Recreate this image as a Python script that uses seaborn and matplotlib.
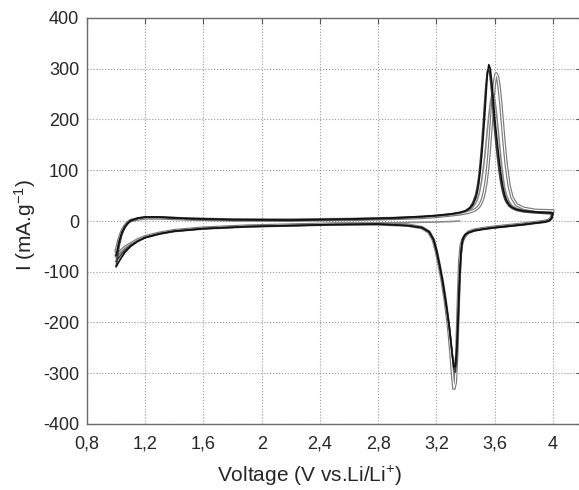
import numpy as np
import pandas as pd
import matplotlib
matplotlib.use("Agg")
import matplotlib.pyplot as plt
import seaborn as sns

# ---------------- DATA ----------------

# anodic sweep, 1.0 V -> 4.0 V
V_an = [1.00, 1.02, 1.04, 1.06, 1.08, 1.10, 1.15, 1.20, 1.30, 1.50, 1.80,
        2.20, 2.60, 2.90, 3.10, 3.20, 3.30, 3.36, 3.40, 3.43, 3.45, 3.47,
        3.48, 3.49, 3.50, 3.51, 3.52, 3.53, 3.54, 3.55, 3.56, 3.57, 3.58,
        3.59, 3.60, 3.61, 3.62, 3.63, 3.64, 3.65, 3.66, 3.67, 3.68, 3.70,
        3.72, 3.75, 3.80, 3.88, 4.00]

I_an_c1 = [-60, -36, -20, -10, -3, 1, 4, 6, 6, 4, 2,
           2, 3, 5, 7, 9, 12, 14, 16, 18, 20, 23,
           25, 28, 32, 38, 46, 58, 75, 98, 128, 165, 205,
           245, 275, 290, 284, 266, 238, 205, 170, 138, 110, 68,
           46, 32, 25, 21, 20]
I_an_c2 = [-68, -40, -22, -11, -4, 1, 6, 8, 8, 5, 3,
           2, 4, 6, 9, 11, 14, 17, 20, 25, 32, 45,
           56, 72, 95, 125, 160, 200, 245, 290, 308, 300, 275,
           240, 205, 175, 148, 122, 98, 78, 62, 50, 42, 32,
           27, 23, 20, 18, 16]
I_an_c3 = [-90, -50, -26, -13, -5, 0, 5, 7, 7, 4, 2,
           1, 3, 5, 8, 10, 13, 16, 20, 27, 36, 52,
           66, 85, 112, 145, 185, 228, 268, 295, 298, 282, 252,
           215, 180, 150, 124, 100, 80, 64, 52, 43, 37, 29,
           25, 21, 18, 16, 14]
I_an_c4 = [-80, -45, -24, -12, -4, 1, 5, 7, 7, 4, 2,
           1, 3, 5, 8, 10, 13, 15, 18, 22, 27, 35,
           41, 50, 62, 78, 98, 122, 150, 180, 208, 232, 248,
           250, 240, 220, 192, 162, 132, 105, 82, 64, 52, 38,
           30, 25, 21, 18, 16]

# cathodic sweep, 4.0 V -> 1.0 V
V_cat = [4.00, 3.99, 3.97, 3.94, 3.88, 3.80, 3.70, 3.60, 3.52, 3.46, 3.42,
         3.40, 3.39, 3.38, 3.37, 3.36, 3.35, 3.34, 3.33, 3.32, 3.31, 3.30,
         3.29, 3.28, 3.26, 3.24, 3.22, 3.20, 3.18, 3.15, 3.10, 3.00, 2.80,
         2.50, 2.20, 1.90, 1.60, 1.40, 1.30, 1.20, 1.15, 1.10, 1.06, 1.03,
         1.00]

I_cat_c1 = [20, 6, 1, -1, -3, -6, -9, -12, -15, -18, -22,
            -28, -32, -38, -48, -80, -165, -262, -318, -330, -300, -262,
            -228, -200, -155, -118, -88, -60, -38, -22, -13, -8, -6,
            -6, -8, -10, -14, -19, -24, -31, -37, -45, -52, -60,
            -68]
I_cat_c2 = [16, 5, 0, -2, -4, -7, -10, -13, -16, -19, -23,
            -26, -30, -36, -55, -100, -178, -248, -286, -288, -265, -238,
            -212, -190, -150, -114, -84, -57, -36, -21, -13, -9, -6,
            -7, -9, -11, -15, -20, -25, -33, -40, -50, -62, -75,
            -90]
I_cat_c3 = [14, 4, 0, -2, -4, -7, -10, -13, -16, -19, -23,
            -27, -32, -40, -65, -120, -200, -268, -298, -290, -267, -240,
            -214, -192, -152, -116, -86, -58, -37, -22, -13, -9, -6,
            -7, -9, -11, -15, -20, -25, -32, -39, -48, -58, -68,
            -80]
I_cat_c4 = [16, 5, 1, -1, -3, -6, -9, -12, -15, -18, -22,
            -26, -31, -40, -62, -110, -182, -245, -280, -284, -266, -242,
            -216, -193, -153, -117, -87, -60, -39, -23, -14, -9, -6,
            -7, -9, -11, -15, -20, -25, -32, -38, -46, -54, -62,
            -72]

# first sweep from open-circuit voltage (cycle 1 only)
V_ocv = [3.36, 3.30, 3.20, 3.00, 2.80, 2.50, 2.20]
I_ocv = [0, -1, -2, -3, -4, -5, -7]

cycles = ["c1", "c2", "c3", "c4"]
I_an = [I_an_c1, I_an_c2, I_an_c3, I_an_c4]
I_cat = [I_cat_c1, I_cat_c2, I_cat_c3, I_cat_c4]

x_ticks = [0.8, 1.2, 1.6, 2.0, 2.4, 2.8, 3.2, 3.6, 4.0]
x_ticklabels = ["0,8", "1,2", "1,6", "2", "2,4", "2,8", "3,2", "3,6", "4"]
y_ticks = [-400, -300, -200, -100, 0, 100, 200, 300, 400]

# ---------------- STYLE ----------------
sns.set_style("white")
plt.rcParams["font.family"] = ["Liberation Sans", "DejaVu Sans"]
plt.rcParams["mathtext.fontset"] = "custom"
plt.rcParams["mathtext.rm"] = "Liberation Sans"
plt.rcParams["mathtext.default"] = "regular"

rows = []
for name, ia, ic in zip(cycles, I_an, I_cat):
    v = list(V_an) + list(V_cat)
    i = list(ia) + list(ic)
    for k, (a, b) in enumerate(zip(v, i)):
        rows.append({"cycle": name, "step": k, "V": a, "I": b})
df = pd.DataFrame(rows)

fig = plt.figure(figsize=(5.79, 4.9), dpi=100)
ax = fig.add_axes([87 / 579, 66 / 490, 495 / 579, 406 / 490])

# cycle 1 looks hollow in the scan: gray outline, white core
c1 = df[df["cycle"] == "c1"]
sns.lineplot(x=V_ocv, y=I_ocv, ax=ax, sort=False, estimator=None,
             color="#8c8c8c", lw=1.2)
sns.lineplot(data=c1, x="V", y="I", ax=ax, sort=False, estimator=None,
             color="#7a7a7a", lw=2.5)
sns.lineplot(data=c1, x="V", y="I", ax=ax, sort=False, estimator=None,
             color="white", lw=0.8)

line_colors = {"c2": "#111111", "c3": "#3c3c3c", "c4": "#8a8a8a"}
for name in ["c4", "c3", "c2"]:
    sns.lineplot(data=df[df["cycle"] == name], x="V", y="I", ax=ax,
                 sort=False, estimator=None, color=line_colors[name], lw=1.2)

ax.set_xlim(0.8, 4.2)
ax.set_ylim(-400, 400)
ax.set_xticks(x_ticks, labels=x_ticklabels)
ax.set_yticks(y_ticks, labels=[str(v) for v in y_ticks])
ax.grid(True, ls=":", color="#9a9a9a", lw=0.8)
ax.tick_params(direction="in", top=True, right=True, length=4, width=0.8,
               color="#555555", labelsize=13)
ax.tick_params(axis="x", pad=8.5)
ax.tick_params(axis="y", pad=5.5)
for sp in ax.spines.values():
    sp.set_color("#6a6a6a")
    sp.set_linewidth(1.0)

ax.set_xlabel("Voltage (V vs.Li/Li$^{+}$)", fontsize=15)
ax.set_ylabel("I (mA.g$^{-1}$)", fontsize=15)
ax.xaxis.set_label_coords((310 - 87) / 495, -0.099)
ax.yaxis.set_label_coords(-0.100, 0.49)

fig.savefig("out.png", dpi=100)
